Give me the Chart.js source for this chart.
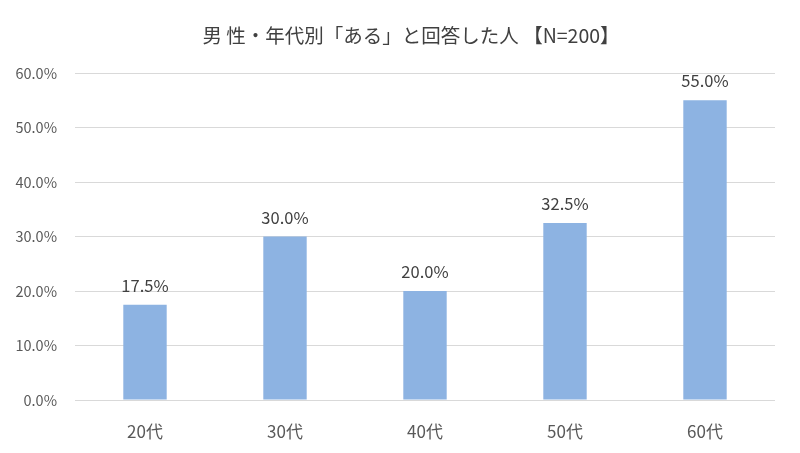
<!DOCTYPE html>
<html><head><meta charset="utf-8">
<script src="https://cdn.jsdelivr.net/npm/chart.js@4.4.0/dist/chart.umd.min.js"></script>
<style>html,body{margin:0;padding:0;background:#fff;}#wrap{width:800px;height:453px;}</style>
</head><body><div id="wrap"><canvas id="c" width="800" height="453"></canvas></div>
<script>
const categories = ["20代", "30代", "40代", "50代", "60代"];
const values = [17.5, 30.0, 20.0, 32.5, 55.0];
const yTicks = [0, 10, 20, 30, 40, 50, 60];
const titleText = "男 性・年代別「ある」と回答した人 【N=200】";

const FONT = "'Noto Sans CJK JP', 'Noto Sans', sans-serif";

const labelPlugin = {
  id: 'valLabels',
  afterDatasetsDraw(chart) {
    const ctx = chart.ctx;
    const meta = chart.getDatasetMeta(0);
    ctx.save();
    ctx.font = "16.5px " + FONT;
    ctx.fillStyle = "#404040";
    ctx.textAlign = "center";
    ctx.textBaseline = "alphabetic";
    meta.data.forEach((bar, i) => {
      ctx.fillText(values[i].toFixed(1) + "%", bar.x, bar.y - 13);
    });
    ctx.restore();
  }
};

const titlePlugin = {
  id: 'customTitle',
  afterDraw(chart) {
    const ctx = chart.ctx;
    ctx.save();
    ctx.font = "19.5px " + FONT;
    ctx.fillStyle = "#404040";
    ctx.textAlign = "center";
    ctx.textBaseline = "middle";
    ctx.fillText(titleText, 411, 36);
    ctx.restore();
  }
};

new Chart(document.getElementById('c'), {
  type: 'bar',
  data: {
    labels: categories,
    datasets: [{
      data: values,
      backgroundColor: '#8DB3E2',
      borderWidth: 0,
      barPercentage: 0.31,
      categoryPercentage: 1.0
    }]
  },
  options: {
    responsive: false,
    animation: false,
    devicePixelRatio: 1,
    layout: { padding: { left: 0, right: 25, top: 73, bottom: 0 } },
    plugins: {
      legend: { display: false },
      tooltip: { enabled: false },
      title: { display: false }
    },
    scales: {
      x: {
        grid: { display: false },
        border: { display: false },
        ticks: { color: '#595959', font: { family: FONT, size: 17 }, padding: 13 },
        afterFit(scale) { scale.height = 53; }
      },
      y: {
        min: 0, max: 60,
        afterBuildTicks(scale) { scale.ticks = yTicks.map(v => ({ value: v })); },
        grid: { color: '#d9d9d9', lineWidth: 1, drawTicks: false },
        border: { display: false },
        ticks: {
          color: '#595959',
          font: { family: FONT, size: 14.5 },
          padding: 18,
          callback: v => v.toFixed(1) + '%'
        },
        afterFit(scale) { scale.width = 75; }
      }
    }
  },
  plugins: [labelPlugin, titlePlugin]
});
</script></body></html>
